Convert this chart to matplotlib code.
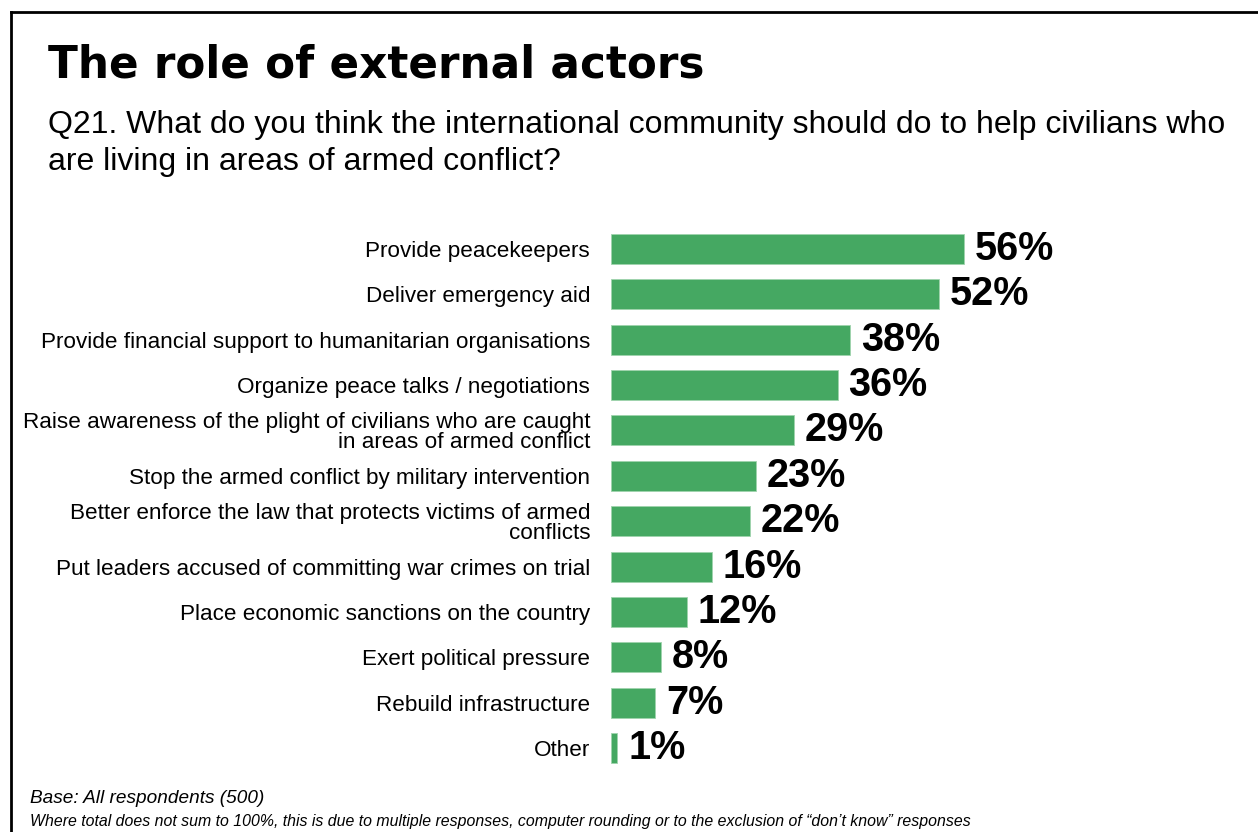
import matplotlib.pyplot as plt
from matplotlib.lines import Line2D

categories = ['Provide peacekeepers', 'Deliver emergency aid',
              'Provide financial support to humanitarian organisations',
              'Organize peace talks / negotiations',
              'Raise awareness of the plight of civilians who are caught\nin areas of armed conflict',
              'Stop the armed conflict by military intervention',
              'Better enforce the law that protects victims of armed\nconflicts',
              'Put leaders accused of committing war crimes on trial',
              'Place economic sanctions on the country',
              'Exert political pressure', 'Rebuild infrastructure', 'Other']
values = [56, 52, 38, 36, 29, 23, 22, 16, 12, 8, 7, 1]

W, H = 1258, 832
fig = plt.figure(figsize=(W / 100, H / 100), dpi=100)

# frame: only left and top edges are visible
fig.add_artist(Line2D([11 / W, 11 / W], [0, 1 - 12 / H], color='k', lw=2, transform=fig.transFigure))
fig.add_artist(Line2D([11 / W, 1], [1 - 12 / H, 1 - 12 / H], color='k', lw=2, transform=fig.transFigure))

fig.text(48 / W, 1 - 77 / H, 'The role of external actors', family='DejaVu Sans',
         fontweight='bold', fontsize=31.5, va='baseline')
fig.text(48 / W, 1 - 133 / H, 'Q21. What do you think the international community should do to help civilians who',
         family='Liberation Sans', fontsize=23, va='baseline')
fig.text(48 / W, 1 - 170 / H, 'are living in areas of armed conflict?',
         family='Liberation Sans', fontsize=23, va='baseline')

px_per_pct = 6.3
left, top, bottom = 611, 226.3, 770.7
ax = fig.add_axes([left / W, 1 - bottom / H, (W - left) / W, (bottom - top) / H])
ax.set_xlim(0, (W - left) / px_per_pct)
ax.set_ylim(len(values) - 0.5, -0.5)
ax.barh(range(len(values)), values, height=0.66, color='#45A862', edgecolor='#9fd3ad', lw=0.6)
for i, v in enumerate(values):
    ax.text(v + 1.7, i, f'{v}%', va='center', ha='left', family='Liberation Sans',
            fontweight='bold', fontsize=28.5)
ax.set_yticks(range(len(values)))
ax.set_yticklabels(categories, family='Liberation Sans', fontsize=16.2, linespacing=0.95)
ax.tick_params(axis='y', length=0, pad=15)
ax.set_xticks([])
for s in ax.spines.values():
    s.set_visible(False)

fig.text(30 / W, 1 - 803 / H, 'Base: All respondents (500)', family='Liberation Sans',
         style='italic', fontsize=13.7, va='baseline')
fig.text(30 / W, 1 - 826 / H, 'Where total does not sum to 100%, this is due to multiple responses, computer rounding '
         'or to the exclusion of \u201cdon\u2019t know\u201d responses', family='Liberation Sans',
         style='italic', fontsize=11.4, va='baseline')

fig.savefig('out.png', dpi=100)
